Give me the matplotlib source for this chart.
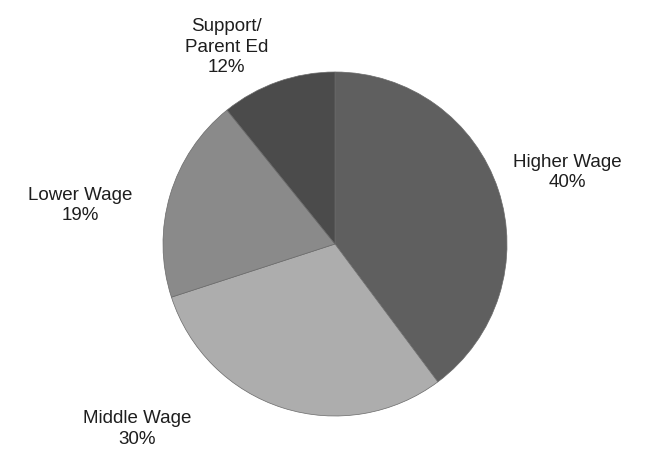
import matplotlib
matplotlib.use("Agg")
import matplotlib.pyplot as plt

labels = ["Higher Wage", "Middle Wage", "Lower Wage", "Support/\nParent Ed"]
pct_labels = [40, 30, 19, 12]
shares = [39.8, 30.2, 19.2, 10.8]
colors = ["#5f5f5f", "#adadad", "#8a8a8a", "#4b4b4b"]
# label positions in data units (pie radius = 1)
label_pos = [(1.35, 0.42), (-1.15, -1.07), (-1.48, 0.23), (-0.63, 1.15)]

plt.rcParams['font.family'] = ['Liberation Sans', 'DejaVu Sans']

fig = plt.figure(figsize=(6.58, 4.56), dpi=100)
ax = fig.add_axes([163 / 658, 39 / 456, 344 / 658, 344 / 456])

ax.pie(shares, colors=colors, startangle=90, counterclock=False, radius=1,
       wedgeprops=dict(edgecolor="#6a6a6a", linewidth=0.5))

for lab, val, (x, y) in zip(labels, pct_labels, label_pos):
    ax.text(x, y, "%s\n%d%%" % (lab, val), ha="center", va="center",
            fontsize=13.5, color="#1e1e1e", linespacing=1.25)

ax.set_xlim(-1, 1)
ax.set_ylim(-1, 1)
ax.set_aspect("auto")
ax.axis("off")

fig.savefig("out.png", dpi=100)
